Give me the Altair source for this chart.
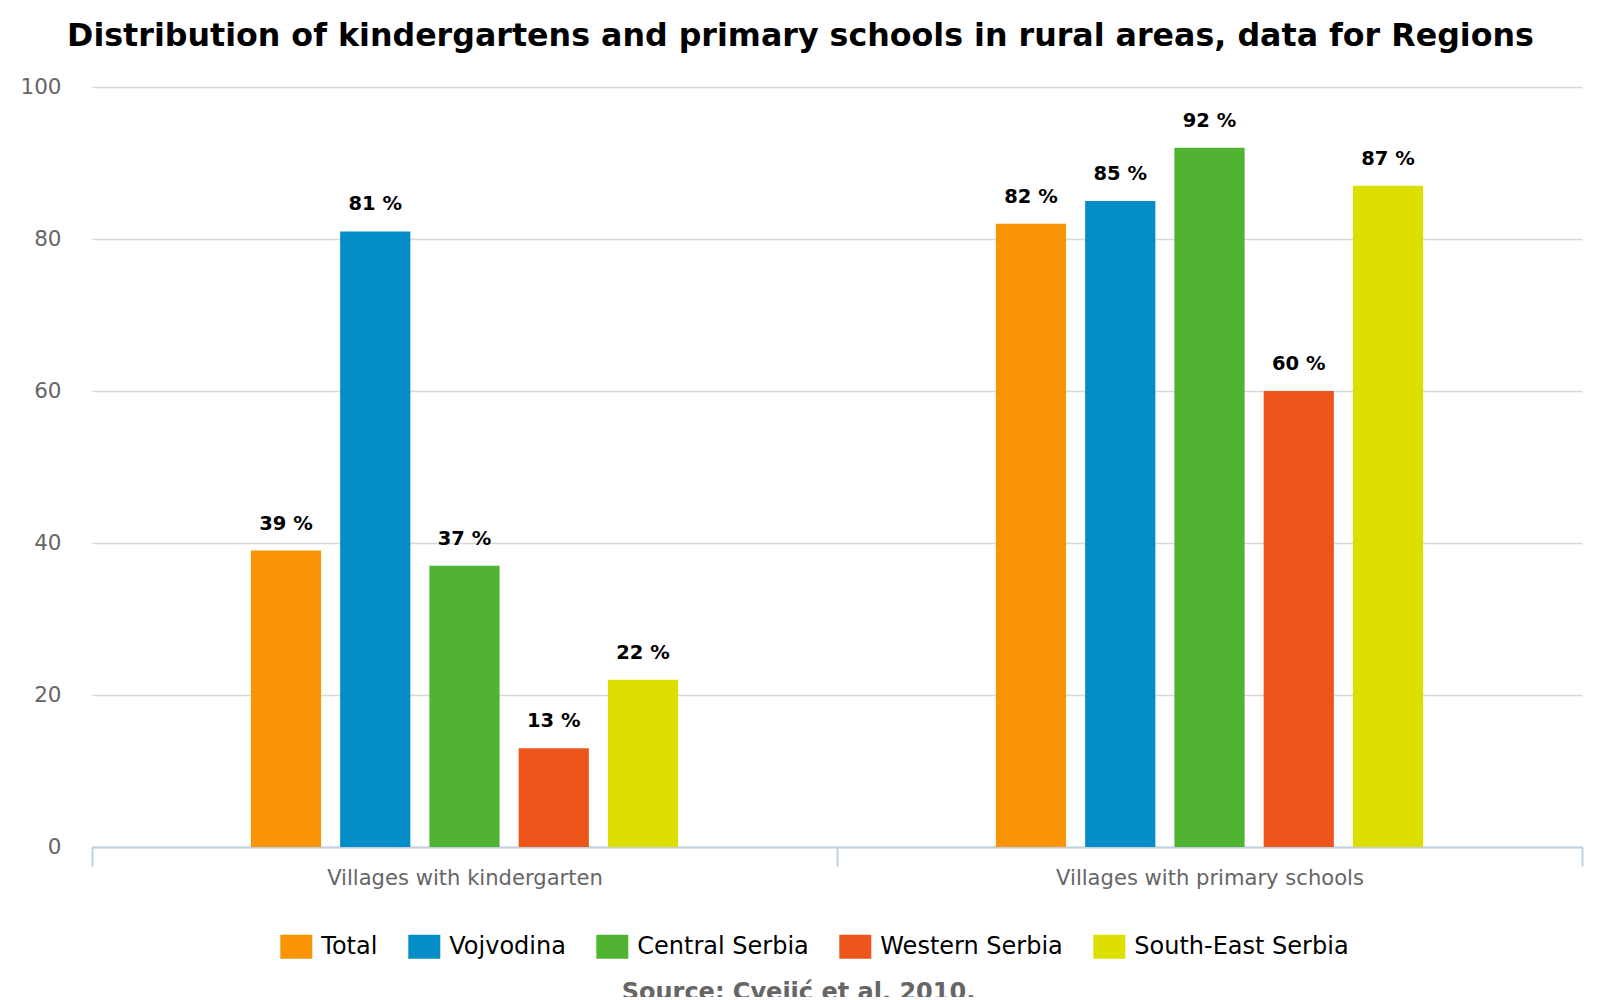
import altair as alt
import pandas as pd

CATEGORIES = ["Villages with kindergarten", "Villages with primary schools"]
REGIONS = ["Total", "Vojvodina", "Central Serbia", "Western Serbia", "South-East Serbia"]
KINDERGARTEN = [39, 81, 37, 13, 22]
PRIMARY = [82, 85, 92, 60, 87]
COLORS = ["#F89406", "#058DC7", "#50B432", "#ED561B", "#DDDF00"]
Y_TICKS = [0, 20, 40, 60, 80, 100]
TITLE = "Distribution of kindergartens and primary schools in rural areas, data for Regions"
SOURCE = "Source: Cvejić et al, 2010."
# empty slots either side of each group (no data, spacing only)
OFFSET_SLOTS = ["(gap-left)"] + REGIONS + ["(gap-right)"]

rows = []
for cat, vals in zip(CATEGORIES, [KINDERGARTEN, PRIMARY]):
    for reg, v in zip(REGIONS, vals):
        rows.append({"category": cat, "region": reg, "value": v, "label": f"{v} %"})
df = pd.DataFrame(rows)

FONT = "DejaVu Sans"

x = alt.X(
    "category:N",
    sort=CATEGORIES,
    scale=alt.Scale(paddingInner=0, paddingOuter=0),
    axis=alt.Axis(
        title=None, labelAngle=0, labelFontSize=21.1, labelColor="#666666",
        labelPadding=1, labelFont=FONT, labelLimit=600, tickBand="extent",
        tickSize=19, tickColor="#C0D0E0", tickWidth=2, domainColor="#C0D0E0",
        domainWidth=2, domain=True, grid=False,
    ),
)
xo = alt.XOffset(
    "region:N",
    scale=alt.Scale(domain=OFFSET_SLOTS, paddingInner=0.2135, paddingOuter=0.78),
)
y = alt.Y(
    "value:Q",
    scale=alt.Scale(domain=[0, 100], nice=False),
    axis=alt.Axis(
        title=None, values=Y_TICKS, labelFontSize=21.5, labelColor="#666666",
        labelPadding=31, labelFont=FONT, ticks=False, domain=False,
        grid=True, gridColor="#D8D8D8", gridWidth=1.6,
    ),
)
color = alt.Color(
    "region:N",
    sort=REGIONS,
    scale=alt.Scale(domain=REGIONS, range=COLORS),
    legend=alt.Legend(
        title=None, orient="none", legendX=188.3, legendY=843.7,
        direction="horizontal", columns=5,
        symbolType="M-1,-0.75L1,-0.75L1,0.75L-1,0.75Z",
        symbolSize=1024, symbolStrokeWidth=0, symbolOpacity=1,
        labelFontSize=24, labelColor="#000000", labelFont=FONT,
        labelOffset=9, columnPadding=30, padding=0, labelLimit=0,
    ),
)

base = alt.Chart(df)
bars = base.mark_bar().encode(x=x, xOffset=xo, y=y, color=color)
labels = base.mark_text(
    fontSize=19.5, fontWeight="bold", color="#000000", font=FONT,
    baseline="alphabetic", align="center", dy=-21,
).encode(x=x, xOffset=xo, y=y, text="label:N")

source = alt.Chart(pd.DataFrame({"t": [SOURCE]})).mark_text(
    fontSize=24, fontWeight="bold", color="#666666", font=FONT,
    baseline="alphabetic", align="center",
).encode(x=alt.value(706.5), y=alt.value(912.5), text="t:N")

chart = (
    alt.layer(bars, labels, source)
    .properties(
        width=1490,
        height=760,
        autosize=alt.AutoSizeParams(type="none"),
        padding={"left": 84, "top": 79, "right": 10, "bottom": 150},
        title=alt.TitleParams(
            TITLE, fontSize=31.7, fontWeight="bold", color="#000000", font=FONT,
            anchor="middle", frame="group", dx=-36.5, offset=23,
        ),
    )
    .configure(font=FONT)
    .configure_view(stroke="transparent", strokeWidth=0)
)

chart.save("out.html", embed_options={"renderer": "svg", "actions": False})
